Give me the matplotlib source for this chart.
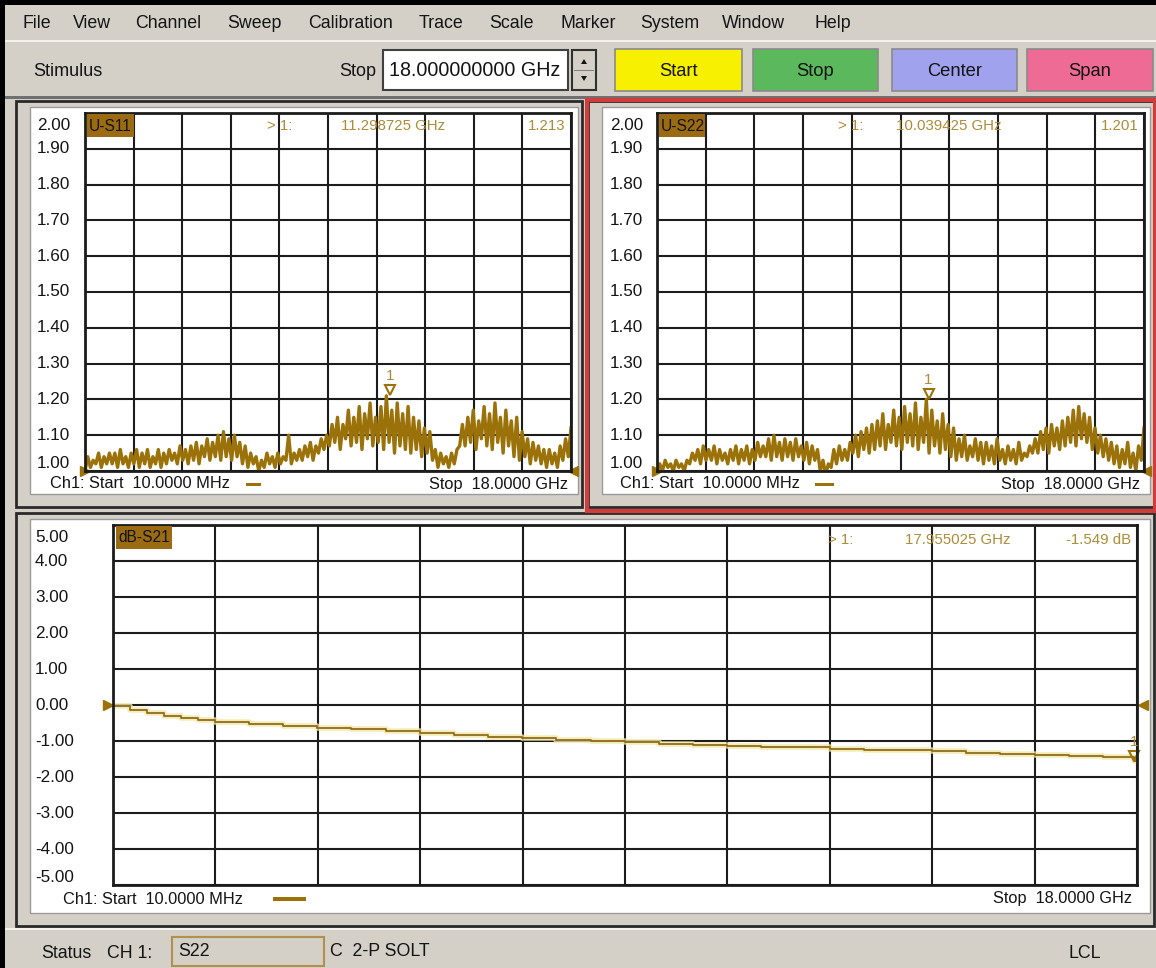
import numpy as np
import matplotlib
matplotlib.use('Agg')
import matplotlib.pyplot as plt
from matplotlib.patches import Rectangle, Polygon
from matplotlib import transforms

plt.rcParams['font.family'] = ['Liberation Sans', 'DejaVu Sans']

# sweep: 10 MHz .. 18 GHz, values in GHz
f_start = 0.01
f_stop = 18.0

# S11 (VSWR), 10 points per GHz
s11_vswr = [
    1.00, 1.04, 1.01, 1.03, 1.02, 1.05, 1.01, 1.04, 1.02, 1.05,
    1.02, 1.05, 1.01, 1.06, 1.02, 1.04, 1.01, 1.05, 1.02, 1.06,
    1.01, 1.05, 1.02, 1.06, 1.01, 1.04, 1.02, 1.06, 1.01, 1.05,
    1.02, 1.06, 1.03, 1.05, 1.02, 1.07, 1.03, 1.06, 1.02, 1.07,
    1.03, 1.08, 1.02, 1.07, 1.04, 1.09, 1.03, 1.08, 1.04, 1.10,
    1.03, 1.11, 1.04, 1.09, 1.03, 1.10, 1.04, 1.08, 1.02, 1.07,
    1.01, 1.05, 1.02, 1.04, 1.00, 1.03, 1.01, 1.05, 1.02, 1.04,
    1.01, 1.05, 1.02, 1.04, 1.03, 1.10, 1.02, 1.05, 1.03, 1.06,
    1.03, 1.07, 1.04, 1.08, 1.03, 1.07, 1.05, 1.09, 1.06, 1.10,
    1.07, 1.13, 1.08, 1.15, 1.06, 1.13, 1.09, 1.17, 1.07, 1.15,
    1.08, 1.18, 1.06, 1.16, 1.09, 1.19, 1.07, 1.15, 1.08, 1.18,
    1.06, 1.21, 1.08, 1.17, 1.05, 1.19, 1.07, 1.16, 1.06, 1.18,
    1.05, 1.15, 1.06, 1.14, 1.04, 1.12, 1.05, 1.11, 1.03, 1.06,
    1.01, 1.05, 1.02, 1.04, 1.01, 1.05, 1.02, 1.06, 1.07, 1.13,
    1.07, 1.15, 1.08, 1.17, 1.06, 1.14, 1.09, 1.18, 1.07, 1.16,
    1.06, 1.19, 1.08, 1.15, 1.05, 1.17, 1.07, 1.14, 1.04, 1.15,
    1.03, 1.11, 1.04, 1.09, 1.02, 1.08, 1.03, 1.07, 1.02, 1.06,
    1.01, 1.06, 1.02, 1.05, 1.01, 1.07, 1.03, 1.09, 1.04, 1.12,
]

# S22 (VSWR), 10 points per GHz
s22_vswr = [
    0.99, 1.02, 1.00, 1.03, 1.01, 1.02, 1.00, 1.03, 1.01, 1.02,
    1.00, 1.03, 1.02, 1.05, 1.03, 1.06, 1.02, 1.07, 1.03, 1.06,
    1.03, 1.07, 1.02, 1.06, 1.03, 1.05, 1.02, 1.06, 1.03, 1.07,
    1.02, 1.06, 1.03, 1.07, 1.02, 1.06, 1.03, 1.08, 1.04, 1.07,
    1.04, 1.09, 1.03, 1.10, 1.04, 1.08, 1.03, 1.09, 1.04, 1.08,
    1.03, 1.09, 1.04, 1.07, 1.03, 1.08, 1.02, 1.07, 1.03, 1.06,
    1.00, 1.03, 0.99, 1.02, 1.01, 1.06, 1.02, 1.07, 1.03, 1.06,
    1.03, 1.08, 1.05, 1.10, 1.04, 1.11, 1.06, 1.12, 1.05, 1.13,
    1.06, 1.14, 1.07, 1.16, 1.06, 1.13, 1.08, 1.17, 1.07, 1.15,
    1.06, 1.18, 1.08, 1.16, 1.07, 1.19, 1.06, 1.15, 1.08, 1.20,
    1.05, 1.17, 1.07, 1.14, 1.05, 1.16, 1.06, 1.13, 1.04, 1.12,
    1.03, 1.09, 1.04, 1.10, 1.03, 1.07, 1.04, 1.09, 1.03, 1.08,
    1.02, 1.08, 1.03, 1.07, 1.02, 1.09, 1.03, 1.06, 1.02, 1.07,
    1.03, 1.06, 1.02, 1.08, 1.03, 1.05, 1.04, 1.07, 1.05, 1.09,
    1.05, 1.11, 1.06, 1.12, 1.05, 1.13, 1.07, 1.12, 1.06, 1.14,
    1.07, 1.15, 1.08, 1.17, 1.07, 1.18, 1.09, 1.16, 1.08, 1.15,
    1.06, 1.12, 1.05, 1.10, 1.04, 1.09, 1.03, 1.08, 1.02, 1.07,
    1.01, 1.06, 1.02, 1.08, 1.01, 1.05, 1.00, 1.07, 1.03, 1.12,
]

# S21 insertion loss (dB)
s21_freq = [0.01, 0.3, 0.6, 0.9, 1.2, 1.5, 1.8, 2.4, 3.0, 3.6, 4.2, 4.8,
            5.4, 6.0, 6.6, 7.2, 7.8, 8.4, 9.0, 9.6, 10.2, 10.8, 11.4, 12.0,
            12.6, 13.2, 13.8, 14.4, 15.0, 15.6, 16.2, 16.8, 17.4, 17.955, 18.0]
s21_db = [-0.03, -0.15, -0.22, -0.30, -0.36, -0.41, -0.46, -0.52, -0.58, -0.63,
          -0.68, -0.72, -0.77, -0.82, -0.88, -0.93, -0.97, -1.01, -1.04, -1.07,
          -1.10, -1.13, -1.16, -1.18, -1.21, -1.24, -1.26, -1.29, -1.32, -1.36,
          -1.39, -1.42, -1.45, -1.549, -1.49]

# markers (freq GHz, value)
s11_marker = [11.298725, 1.213]
s22_marker = [10.039425, 1.201]
s21_marker = [17.955025, -1.549]

vswr_ticks = [2.00, 1.90, 1.80, 1.70, 1.60, 1.50, 1.40, 1.30, 1.20, 1.10, 1.00]
db_ticks = [5.00, 4.00, 3.00, 2.00, 1.00, 0.00, -1.00, -2.00, -3.00, -4.00, -5.00]

menu_items = ['File', 'View', 'Channel', 'Sweep', 'Calibration', 'Trace',
              'Scale', 'Marker', 'System', 'Window', 'Help']

W, H = 1156, 968
GREY = '#d4d0c8'
TRACE = '#9a7209'
GOLD = '#ad8c38'
TAG = '#9b6b14'
INK = '#141414'

fig = plt.figure(figsize=(W / 100, H / 100), dpi=100, facecolor=GREY)


def rect(x0, y0, x1, y1, fc, ec='none', lw=0, z=-2):
    fig.patches.append(Rectangle((x0 / W, 1 - y1 / H), (x1 - x0) / W, (y1 - y0) / H,
                                 transform=fig.transFigure, facecolor=fc,
                                 edgecolor=ec, linewidth=lw, zorder=z))


def tri(pts, color, z=-1):
    fig.patches.append(Polygon([(x / W, 1 - y / H) for x, y in pts], closed=True,
                               transform=fig.transFigure, facecolor=color,
                               edgecolor='none', zorder=z))


def text(x, y, s, size, color=INK, ha='left', va='center', **kw):
    fig.text(x / W, 1 - y / H, s, fontsize=size, color=color, ha=ha, va=va, **kw)


# screen edges, menu bar, toolbar
rect(0, 0, W, 5, 'black')
rect(0, 0, 5, H, 'black')
rect(5, 40, W, 42, '#f4f2ee')
rect(5, 96, W, 99, '#707070')

menu_x = [23, 73, 135, 227, 308, 419, 489, 560, 640, 722, 815]
for name, mx in zip(menu_items, menu_x):
    text(mx, 23, name, 12.8)

text(33, 72, 'Stimulus', 13)
text(376, 71, 'Stop', 13, ha='right')
rect(383, 50, 568, 90, 'white', ec='#404040', lw=1.5)
text(389, 71, '18.000000000 GHz', 14.2)
rect(572, 50, 596, 90, GREY, ec='#303030', lw=1.5)
rect(574, 70, 594, 71, '#808080', z=-1)
tri([(581, 64), (587, 64), (584, 59)], INK)
tri([(581, 76), (587, 76), (584, 81)], INK)

buttons = [('Start', 615, 742, '#f7f000'), ('Stop', 753, 878, '#5cb85c'),
           ('Center', 892, 1017, '#a0a2ee'), ('Span', 1027, 1153, '#ee6b96')]
for label, bx0, bx1, col in buttons:
    rect(bx0, 49, bx1, 91, col, ec='#8a8a8a', lw=1.2)
    text((bx0 + bx1) / 2, 71, label, 13.2, ha='center')


def panel(x0, y0, x1, y1, active=False):
    rect(x0, y0, x1, y1, GREY, ec='#2a2a2a', lw=2)
    rect(x0 + 14, y0 + 6, x1 - 4, y1 - 13, 'white', ec='#9a9a9a', lw=1)
    if active:
        rect(x0 - 1, y0 - 1, x1 + 1, y1 + 4, 'none', ec='#d23c3c', lw=3, z=-1)


panel(16, 101, 582, 507)
panel(588, 101, 1154, 507, active=True)
panel(16, 513, 1154, 926)


def grid_axes(x0, y0, x1, y1, ylim, ticks):
    ax = fig.add_axes([x0 / W, 1 - y1 / H, (x1 - x0) / W, (y1 - y0) / H])
    ax.set_xlim(f_start, f_stop)
    ax.set_ylim(*ylim)
    ax.set_xticks(np.linspace(f_start, f_stop, 11))
    ax.set_yticks(ticks)
    ax.tick_params(length=0, labelleft=False, labelbottom=False)
    ax.grid(True, color='#1c1c1c', lw=1.5)
    ax.set_axisbelow(True)
    for sp in ax.spines.values():
        sp.set_color('#1c1c1c')
        sp.set_linewidth(2)
    ax.set_facecolor('white')
    return ax


def tick_labels(ax, lx, ticks, fmt):
    blend = transforms.blended_transform_factory(fig.transFigure, ax.transData)
    top, bottom = max(ticks), min(ticks)
    for v in ticks:
        dy = 0
        if v == top:
            dy = -12
        elif v == bottom:
            dy = 7
        tr = transforms.offset_copy(blend, fig=fig, y=dy, units='dots')
        fig.text(lx / W, v, fmt.format(v), transform=tr, fontsize=12.3,
                 color=INK, ha='left', va='center')


def ref_arrows(ax, level, dx_left, dx_right):
    blend = transforms.blended_transform_factory(ax.transAxes, ax.transData)
    tl = transforms.offset_copy(blend, fig=fig, x=dx_left, units='dots')
    tr = transforms.offset_copy(blend, fig=fig, x=dx_right, units='dots')
    ax.plot([0], [level], marker='>', ms=7, color=TRACE, transform=tl, clip_on=False)
    ax.plot([1], [level], marker='<', ms=7, color=TRACE, transform=tr, clip_on=False)


def marker_one(ax, f, v):
    tr = transforms.offset_copy(ax.transData, fig=fig, y=5, units='dots')
    ax.plot([f], [v], marker='v', ms=7, mfc='none', mec=TRACE, mew=1.5,
            transform=tr, clip_on=False)
    ax.annotate('1', xy=(f, v), xytext=(0, 19), textcoords='offset pixels',
                ha='center', va='center', color=GOLD, fontsize=11)


# --- S11 ---
ax11 = grid_axes(85, 113, 571, 471, (1.0, 2.0), vswr_ticks)
f11 = np.linspace(f_start, f_stop, len(s11_vswr))
ax11.plot(f11, s11_vswr, color=TRACE, lw=2.4)
ref_arrows(ax11, 1.0, 0, 2)
marker_one(ax11, *s11_marker)
tick_labels(ax11, 37, vswr_ticks, '{:.2f}')
rect(87, 114, 134, 137, TAG, z=1)
text(89, 126, 'U-S11', 11.2)
text(267, 126, '> 1:', 10.8, color=GOLD)
text(341, 126, f'{s11_marker[0]:.6f} GHz', 10.8, color=GOLD)
text(565, 126, f'{s11_marker[1]:.3f}', 10.8, color=GOLD, ha='right')
text(50, 484, 'Ch1: Start  10.0000 MHz', 11.8)
rect(246, 483, 261, 486, TRACE, z=1)
text(568, 484, 'Stop  18.0000 GHz', 11.8, ha='right')

# --- S22 ---
ax22 = grid_axes(657, 113, 1144, 471, (1.0, 2.0), vswr_ticks)
f22 = np.linspace(f_start, f_stop, len(s22_vswr))
ax22.plot(f22, s22_vswr, color=TRACE, lw=2.4)
ref_arrows(ax22, 1.0, 0, 2)
marker_one(ax22, *s22_marker)
tick_labels(ax22, 610, vswr_ticks, '{:.2f}')
rect(659, 114, 705, 137, TAG, z=1)
text(661, 126, 'U-S22', 11.2)
text(838, 126, '> 1:', 10.8, color=GOLD)
text(896, 126, f'{s22_marker[0]:.6f} GHz', 10.8, color=GOLD)
text(1139, 126, f'{s22_marker[1]:.3f}', 10.8, color=GOLD, ha='right')
text(620, 484, 'Ch1: Start  10.0000 MHz', 11.8)
rect(815, 483, 834, 486, TRACE, z=1)
text(1140, 484, 'Stop  18.0000 GHz', 11.8, ha='right')

# --- S21 ---
ax21 = grid_axes(113, 525, 1137, 885, (-5.0, 5.0), db_ticks)
ax21.plot(s21_freq, s21_db, color='#f3e6a6', lw=4, alpha=0.8, drawstyle='steps-post')
ax21.plot(s21_freq, s21_db, color='#8f6d1a', lw=1.3, drawstyle='steps-post')
ref_arrows(ax21, 0.0, -5, 6)
marker_one(ax21, *s21_marker)
tick_labels(ax21, 35, db_ticks, '{:.2f}')
rect(116, 526, 172, 549, TAG, z=1)
text(118, 538, 'dB-S21', 11.2)
text(828, 540, '> 1:', 10.8, color=GOLD)
text(905, 540, f'{s21_marker[0]:.6f} GHz', 10.8, color=GOLD)
text(1131, 540, f'{s21_marker[1]:.3f} dB', 10.8, color=GOLD, ha='right')
text(63, 899, 'Ch1: Start  10.0000 MHz', 11.8)
rect(273, 897, 306, 901, TRACE, z=1)
text(1132, 899, 'Stop  18.0000 GHz', 11.8, ha='right')

# --- status bar ---
rect(5, 928, W, 930, '#f4f2ee')
text(41, 953, 'Status', 12.8)
text(107, 953, 'CH 1:', 12.8)
rect(172, 937, 324, 966, GREY, ec='#b0904a', lw=1.5)
text(178, 952, 'S22', 12.8)
text(330, 952, 'C  2-P SOLT', 12.8)
text(1069, 953, 'LCL', 12.8)

fig.savefig('out.png', dpi=100, facecolor=GREY)
